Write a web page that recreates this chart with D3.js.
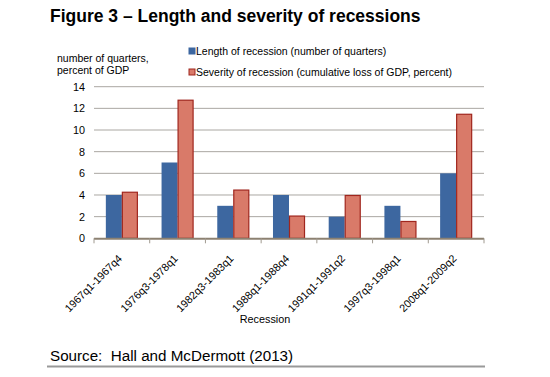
<!DOCTYPE html>
<html><head><meta charset="utf-8">
<script src="https://cdn.jsdelivr.net/npm/d3@7"></script>
<style>body{margin:0;background:#fff}svg{display:block;font-family:"Liberation Sans",Arial,sans-serif}</style>
</head><body><svg id="c" width="550" height="377"></svg>
<script>
const categories = ["1967q1-1967q4","1976q3-1978q1","1982q3-1983q1","1988q1-1988q4","1991q1-1991q2","1997q3-1998q1","2008q1-2009q2"];
const lengthValues = [4, 7, 3, 4, 2, 3, 6];
const severityValues = [4.3, 12.8, 4.5, 2.1, 4.0, 1.6, 11.5];
const yTicks = [0, 2, 4, 6, 8, 10, 12, 14];
const seriesNames = ["Length of recession (number of quarters)", "Severity of recession (cumulative loss of GDP, percent)"];

const svg = d3.select("#c");
const L = 94, R = 484, T = 86.7, B = 238.3;
const x = d3.scaleBand().domain(categories).range([L, R]).paddingInner(0.425).paddingOuter(0.2125);
const x1 = d3.scaleBand().domain([0,1]).range([0, x.bandwidth()]);
const y = d3.scaleLinear().domain([0, 14]).range([B, T]);

svg.append("text").attr("x", 50).attr("y", 21.5).attr("font-size", 17.5).attr("font-weight", "bold").attr("fill","#000")
  .text("Figure 3 – Length and severity of recessions");

// gridlines
svg.append("g").selectAll("line").data(yTicks.filter(d=>d>0)).join("line")
  .attr("x1", L).attr("x2", R).attr("y1", d=>y(d)).attr("y2", d=>y(d))
  .attr("stroke", "#aaa7a2").attr("stroke-width", 1);

// y axis labels
const yAxis = d3.axisLeft(y).tickValues(yTicks).tickSize(0).tickPadding(9);
const gy = svg.append("g").attr("transform", `translate(${L},0)`).call(yAxis);
gy.select(".domain").remove();
gy.selectAll("text").attr("font-size", 10.8).attr("fill", "#000").attr("font-family", "Liberation Sans, Arial, sans-serif");

svg.append("text").attr("x", 57).attr("y", 62).attr("font-size", 10.5).text("number of quarters,");
svg.append("text").attr("x", 57).attr("y", 74).attr("font-size", 10.5).text("percent of GDP");

// bars
const g = svg.append("g");
g.selectAll("rect.len").data(lengthValues).join("rect").attr("class","len")
  .attr("x", (d,i)=>x(categories[i]) + x1(0)).attr("width", x1.bandwidth())
  .attr("y", d=>y(d)).attr("height", d=>B - y(d)).attr("fill", "#3d67a0");
g.selectAll("rect.sev").data(severityValues).join("rect").attr("class","sev")
  .attr("x", (d,i)=>x(categories[i]) + x1(1) + 0.5).attr("width", x1.bandwidth() - 1)
  .attr("y", d=>y(d) + 0.5).attr("height", d=>B - y(d) - 0.5).attr("fill", "#d97a69")
  .attr("stroke", "#a0261e").attr("stroke-width", 1.2);

// x axis
const xAxis = d3.axisBottom(x).tickSize(0).tickFormat("");
const gx = svg.append("g").attr("transform", `translate(0,${B})`).call(xAxis);
gx.select(".domain").remove();
svg.append("line").attr("x1", L).attr("x2", R).attr("y1", B+0.5).attr("y2", B+0.5).attr("stroke", "#8c8171").attr("stroke-width", 2);
const bounds = categories.map(c => x(c) - x.step()*x.paddingInner()/2).concat([R]);
svg.append("g").selectAll("line").data(bounds).join("line")
  .attr("x1", d=>d).attr("x2", d=>d).attr("y1", B).attr("y2", B+5).attr("stroke", "#a09a90").attr("stroke-width", 1);

svg.append("g").selectAll("text").data(categories).join("text")
  .attr("transform", d => `translate(${x(d)+x.bandwidth()/2+1},${B+21}) rotate(-45)`)
  .attr("text-anchor", "end").attr("font-size", 10.8).attr("fill","#000").text(d=>d);

svg.append("text").attr("x", 265).attr("y", 323).attr("text-anchor","middle").attr("font-size", 10.8).text("Recession");

// legend
const lg = svg.append("g");
const legendColors = [["#3d67a0","#3d67a0"],["#d97a69","#a0261e"]];
seriesNames.forEach((n,i)=>{
  const yy = 55 + i*21;
  lg.append("rect").attr("x", 189).attr("y", yy-7).attr("width", 6).attr("height", 6)
    .attr("fill", legendColors[i][0]).attr("stroke", legendColors[i][1]).attr("stroke-width", 1);
  lg.append("text").attr("x", 196).attr("y", yy).attr("font-size", 10.5).text(n);
});

// source
svg.append("text").attr("x", 50).attr("y", 361).attr("font-size", 15.2).style("white-space","pre")
  .text("Source:  Hall and McDermott (2013)");
svg.append("line").attr("x1", 47).attr("x2", 485).attr("y1", 366.5).attr("y2", 366.5).attr("stroke", "#999").attr("stroke-width", 2);
</script></body></html>
